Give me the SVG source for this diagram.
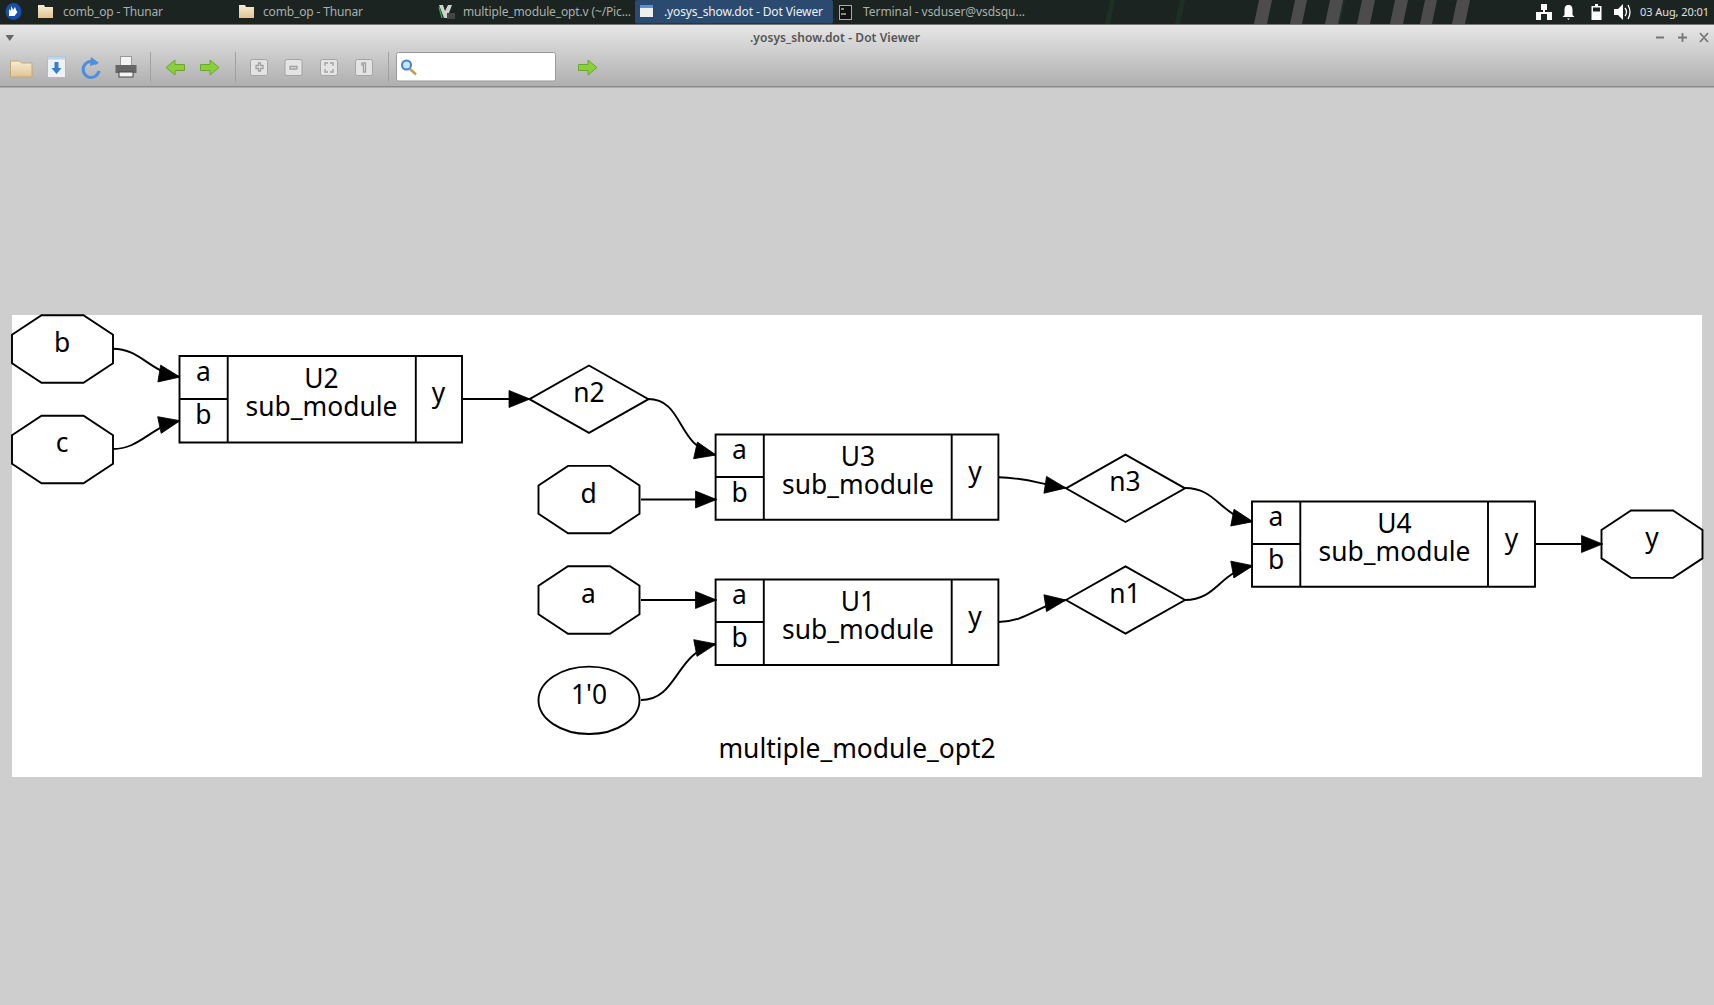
<svg xmlns="http://www.w3.org/2000/svg" width="1714" height="1005" viewBox="0 0 1714 1005">
<style>
.n{fill:none;stroke:#000;stroke-width:1.9}
.e{fill:none;stroke:#000;stroke-width:1.9}
.t{font-family:"Noto Sans",sans-serif;font-size:26.4px;fill:#000;text-anchor:middle}
.tb{font-family:"Noto Sans",sans-serif;font-size:12px;fill:#aab0ac}
.sep{stroke:#a0a0a0;stroke-width:1}
.btn{fill:#e4e4e4;stroke:#a4a4a4;stroke-width:1}
.gl{fill:none;stroke:#a0a0a0;stroke-width:1.3}
.ar{fill:#8ccf3c;stroke:#6aa82a;stroke-width:1}
.st{fill:#4c4c4c}
.ic{fill:#fff}
</style>
<defs>
<marker id="arrow" markerUnits="userSpaceOnUse" markerWidth="25" markerHeight="21" viewBox="-1 -2 25 21" refX="21" refY="8.500" orient="auto"><path d="M0,0L21,8.500L0,17Z" fill="#000" stroke="#000" stroke-width="0.8"/></marker>
<linearGradient id="tg" x1="0" y1="0" x2="0" y2="1"><stop offset="0" stop-color="#e6e6e6"/><stop offset="1" stop-color="#afafaf"/></linearGradient>
<linearGradient id="fo" x1="0" y1="0" x2="0" y2="1"><stop offset="0" stop-color="#f8ecd4"/><stop offset="1" stop-color="#e0c493"/></linearGradient>
<path id="oct" d="M-21,-33.700H21L50.500,-14.200V14.200L21,33.700H-21L-50.500,14.200V-14.200Z"/>
<path id="dia" d="M-59.500,0L0,-33.700L59.500,0L0,33.700Z"/>
</defs>
<rect width="1714" height="1005" fill="#cecece"/>
<g id="taskbar">
<rect width="1714" height="24.500" fill="#1b2421"/>
<path d="M710,0h6l-5,24h-6zM1340,0h5l-5,24h-5zM1180,0h5l-5,24h-5zM1110,0h5l-5,24h-5z" fill="#1d3026"/>
<path class="st" d="M1259,0h13l-5,24h-13zM1295,0h12l-5,24h-12zM1330,0h13l-5,24h-13zM1362,0h13l-5,24h-13zM1395,0h13l-5,24h-13zM1425,0h12l-5,24h-12zM1457,0h13l-5,24h-13z"/>
<rect x="635" width="198" height="23.500" rx="2" fill="#2a4a70"/>
<ellipse cx="13.500" cy="11.500" rx="8" ry="8.500" fill="#1a4fa8"/><path d="M9,16l0,-7 1.500,2 1,-5 1.500,4 2,-3 1.500,4 1,1 -3,4z" fill="#fff"/>
<path d="M38,5h6l1,2h8v11h-15z" fill="url(#fo)"/>
<path d="M239,5h6l1,2h8v11h-15z" fill="url(#fo)"/>
<text class="tb" x="63" y="16" textLength="100">comb_op - Thunar</text>
<text class="tb" x="263" y="16" textLength="100">comb_op - Thunar</text>
<path d="M439,5h4l2,6 3,-6h4l-5,13h-3z" fill="#d0d0d0"/><path d="M439,7l3,11" stroke="#2fb04a" stroke-width="1.200"/><rect x="447" y="13" width="8" height="6" fill="#444"/>
<text class="tb" x="463" y="16" textLength="168">multiple_module_opt.v (~/Pic...</text>
<rect x="640" y="7" width="13" height="10" fill="#eee"/><rect x="640" y="5" width="13" height="3" fill="#5a8fd0"/>
<text class="tb" x="664" y="16" textLength="159" style="fill:#f0f0f0">.yosys_show.dot - Dot Viewer</text>
<rect x="839.500" y="5.500" width="12" height="14" fill="#111" stroke="#aaa" stroke-width="1"/><path d="M841,9h3M841,14h5" stroke="#fff" stroke-width="1"/>
<text class="tb" x="863" y="16" textLength="162">Terminal - vsduser@vsdsqu...</text>
<path class="ic" d="M1541,4h6v6h-2v2h7v8h-5v-6h-6v6h-5v-8h7v-2h-2z"/>
<path class="ic" d="M1568.500,5c3,0 4,2 4,5v5l2,2h-12l2,-2v-5c0,-3 1,-5 4,-5zM1567,18.500h3l-1.500,1.500z"/>
<path class="ic" d="M1595,4h3v2h3.500v14h-10v-14h3.500z"/><rect x="1593" y="7.500" width="7" height="4" fill="#1b2421"/>
<path class="ic" d="M1614,9h4l5,-5v16l-5,-5h-4z"/><path d="M1625,8q3,4 0,8M1628,5q4,7 0,14" stroke="#fff" fill="none" stroke-width="1.300"/>
<text class="tb" x="1640" y="16" textLength="69" style="fill:#e0e0e0;font-size:11px">03 Aug, 20:01</text>
</g>
<g id="titlebar">
<rect y="25" width="1714" height="61" fill="url(#tg)"/>
<rect y="86" width="1714" height="1.500" fill="#8a8a8a"/>
<path d="M5.500,35h8.500l-4.250,6z" fill="#666"/>
<text x="750" y="41.500" textLength="170" style="font-family:'Noto Sans',sans-serif;font-size:12px;fill:#555;font-weight:600">.yosys_show.dot - Dot Viewer</text>
<path d="M1656,37.500h8M1678,37.500h9M1682.500,33v9M1700,33l8,9M1708,33l-8,9" stroke="#777" stroke-width="1.800" fill="none"/>
</g>
<g id="toolbar">
<path d="M10.500,61h9l2,2h10.500v14h-21.500z" fill="url(#fo)" stroke="#c4a878" stroke-width="1"/>
<rect x="47.500" y="56.500" width="18" height="21" fill="#eef2f6" stroke="#b8b8b8"/><rect x="47.500" y="56.500" width="18" height="3" fill="#bcd4ea"/><path d="M54.500,62h4v6h3l-5,6 -5,-6h3z" fill="#2f7fd6"/>
<path d="M97,64a8,8 0 1 0 2,7" fill="none" stroke="#4a8fe0" stroke-width="3"/><path d="M91,57l8,6 -9,3z" fill="#4a8fe0"/>
<rect x="120.500" y="56.500" width="11" height="10" fill="#f4f4f4" stroke="#999"/><rect x="115.500" y="65" width="21" height="8" fill="#666"/><rect x="119" y="72" width="14" height="5" fill="#f5f5f5" stroke="#444"/>
<path class="sep" d="M150.500,52V82M235.500,52V82M388.500,52V82"/>
<path class="ar" d="M166,67.500l9,-7.500v4.500h9.500v6h-9.500v4.500z"/>
<path class="ar" d="M219,67.500l-9,-7.500v4.500h-9.500v6h9.500v4.500z"/>
<rect class="btn" x="250.500" y="59.500" width="17" height="16" rx="2"/><path class="gl" d="M256,65.500h2.500v-2.500h2v2.500h2.500v3h-2.500v2.500h-2v-2.500h-2.500z"/>
<rect class="btn" x="285" y="59.500" width="17" height="16" rx="2"/><path class="gl" d="M290,66.500h7v2.500h-7z"/>
<rect class="btn" x="320.500" y="59.500" width="17" height="16" rx="2"/><path class="gl" d="M325,66v-3h3M330,63h3v3M333,69v3h-3M328,72h-3v-3"/>
<rect class="btn" x="355.500" y="59.500" width="17" height="16" rx="2"/><path class="gl" d="M362,63h3.500v9h-2V65h-1.500z"/>
<rect x="396.500" y="52.500" width="159" height="28.500" rx="2" fill="#fff" stroke="#999"/>
<circle cx="406.500" cy="65" r="4.500" fill="#cfe3f7" stroke="#3b82d8" stroke-width="2"/><path d="M410,69l6,5.500" stroke="#c79a4e" stroke-width="2.500"/>
<path class="ar" d="M597,67.500l-9,-7.500v4.500h-9.500v6h9.500v4.500z"/>
</g>
<rect id="canvas" x="12" y="315" width="1690" height="462" fill="#fff"/>
<g id="connectors">
<path class="e" marker-end="url(#arrow)" d="M113,348.700C140,348.700 150,372 180,377"/>
<path class="e" marker-end="url(#arrow)" d="M113,449C140,449 150,427 180,420.700"/>
<path class="e" marker-end="url(#arrow)" d="M462,399H530"/>
<path class="e" marker-end="url(#arrow)" d="M648,399C684,399 676,446 716,455"/>
<path class="e" marker-end="url(#arrow)" d="M641,499.500H716.500"/>
<path class="e" marker-end="url(#arrow)" d="M641,600H716.500"/>
<path class="e" marker-end="url(#arrow)" d="M641,700C678,700 675,652 716,644"/>
<path class="e" marker-end="url(#arrow)" d="M998.400,477.300C1024,477.300 1040,484 1066,488"/>
<path class="e" marker-end="url(#arrow)" d="M998.400,622C1026,622 1040,604 1066,600"/>
<path class="e" marker-end="url(#arrow)" d="M1185,488C1217,488 1219,515 1253,521.700"/>
<path class="e" marker-end="url(#arrow)" d="M1185,600C1217,600 1219,572 1253,565.700"/>
<path class="e" marker-end="url(#arrow)" d="M1535,544H1602.500"/>
</g>
<g id="in_b"><use href="#oct" class="n" x="62.500" y="349"/><text class="t" x="62" y="352">b</text></g>
<g id="in_c"><use href="#oct" class="n" x="62.500" y="449.500"/><text class="t" x="62" y="452.300">c</text></g>
<g id="in_d"><use href="#oct" class="n" x="589" y="499.600"/><text class="t" x="588.500" y="503">d</text></g>
<g id="in_a"><use href="#oct" class="n" x="589" y="600"/><text class="t" x="588.500" y="603.300">a</text></g>
<g id="const_0"><ellipse class="n" cx="589" cy="700.300" rx="50.500" ry="33.700"/><text class="t" x="589" y="704">1'0</text></g>
<g id="out_y"><use href="#oct" class="n" x="1652" y="544.200"/><text class="t" x="1652" y="547">y</text></g>
<g id="n2"><use href="#dia" class="n" x="589" y="399.200"/><text class="t" x="589" y="402.200">n2</text></g>
<g id="n3"><use href="#dia" class="n" x="1125.500" y="488.300"/><text class="t" x="1125" y="491">n3</text></g>
<g id="n1"><use href="#dia" class="n" x="1125.500" y="600"/><text class="t" x="1125" y="603">n1</text></g>
<g id="U2"><path class="n" d="M179.500,356H462V442.500H179.500ZM227.700,356V442.500M415.800,356V442.500M179.500,399H227.700"/>
<text class="t" x="203.300" y="381">a</text><text class="t" x="203.300" y="424">b</text><text class="t"><tspan x="321.500" y="388.400">U2</tspan><tspan x="321.500" y="416.300">sub_module</tspan></text><text class="t" x="438.500" y="402">y</text></g>
<g id="U3"><path class="n" d="M715.600,434.500H998.400V519.700H715.600ZM763.800,434.500V519.700M951.700,434.500V519.700M715.600,477H763.800"/>
<text class="t" x="739.500" y="459">a</text><text class="t" x="739.500" y="502">b</text><text class="t"><tspan x="858" y="466.400">U3</tspan><tspan x="858" y="494.300">sub_module</tspan></text><text class="t" x="975" y="481">y</text></g>
<g id="U1"><path class="n" d="M715.600,579.500H998.400V665H715.600ZM763.800,579.500V665M951.700,579.500V665M715.600,622H763.800"/>
<text class="t" x="739.500" y="604">a</text><text class="t" x="739.500" y="647">b</text><text class="t"><tspan x="858" y="611.400">U1</tspan><tspan x="858" y="639.300">sub_module</tspan></text><text class="t" x="975" y="626">y</text></g>
<g id="U4"><path class="n" d="M1252,501.500H1535V586.700H1252ZM1300.300,501.500V586.700M1488,501.500V586.700M1252,544H1300.300"/>
<text class="t" x="1276" y="526">a</text><text class="t" x="1276" y="569">b</text><text class="t"><tspan x="1394.500" y="533.400">U4</tspan><tspan x="1394.500" y="561.300">sub_module</tspan></text><text class="t" x="1511.500" y="548">y</text></g>
<text id="title" class="t" x="857" y="758">multiple_module_opt2</text>
</svg>
